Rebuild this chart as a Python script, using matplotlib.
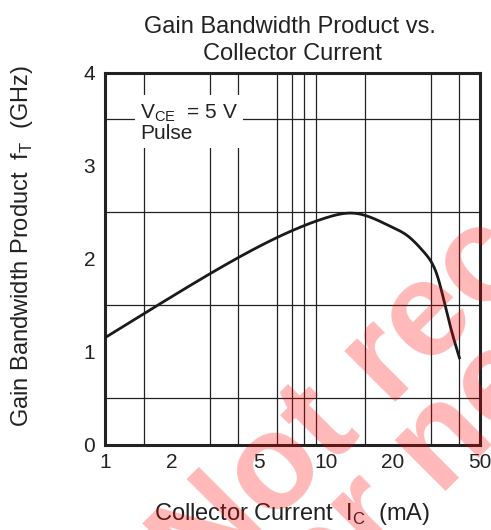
import numpy as np
import matplotlib.pyplot as plt
from matplotlib.ticker import FixedLocator, NullFormatter

plt.rcParams['font.family'] = ['Liberation Sans', 'DejaVu Sans']
plt.rcParams['mathtext.fontset'] = 'custom'
plt.rcParams['mathtext.rm'] = 'Liberation Sans'

# Prąd kolektora (mA) i f_T (GHz)
ic = [1.0, 2.0, 4.0, 7.0, 10.0, 13.5, 20.0, 23.4, 27.9, 30.5, 32.0, 34.4, 36.9, 40.5]
ft = [1.15, 1.59, 2.01, 2.30, 2.44, 2.49, 2.34, 2.25, 2.07, 1.94, 1.82, 1.54, 1.25, 0.92]

x_ticks = [1, 2, 5, 10, 20, 50]
x_grid = [1.5, 2, 3, 4, 5, 6, 7, 8, 9, 10, 15, 20, 30, 40]
y_ticks = [0, 1, 2, 3, 4]
y_grid = [0.5, 1, 1.5, 2, 2.5, 3, 3.5]

W, H = 491, 530
fig = plt.figure(figsize=(W / 100, H / 100), dpi=100)
L, R, T, B = 105, 480, 73, 444.5
ax = fig.add_axes([L / W, 1 - B / H, (R - L) / W, (B - T) / H])


def spline(x, y, n=400):
    # naturalny spline sześcienny
    x = np.asarray(x, float)
    y = np.asarray(y, float)
    k = len(x)
    h = np.diff(x)
    A = np.zeros((k, k))
    r = np.zeros(k)
    A[0, 0] = A[-1, -1] = 1
    for i in range(1, k - 1):
        A[i, i - 1] = h[i - 1]
        A[i, i] = 2 * (h[i - 1] + h[i])
        A[i, i + 1] = h[i]
        r[i] = 3 * ((y[i + 1] - y[i]) / h[i] - (y[i] - y[i - 1]) / h[i - 1])
    c = np.linalg.solve(A, r)
    b = (y[1:] - y[:-1]) / h - h * (2 * c[:-1] + c[1:]) / 3
    d = (c[1:] - c[:-1]) / (3 * h)
    xs = np.linspace(x[0], x[-1], n)
    j = np.clip(np.searchsorted(x, xs) - 1, 0, k - 2)
    dx = xs - x[j]
    return xs, y[j] + b[j] * dx + c[j] * dx ** 2 + d[j] * dx ** 3


ax.set_xscale('log')
ax.set_xlim(1, 50)
ax.set_ylim(0, 4)

lx, ys = spline(np.log10(ic), ft)
ax.plot(10 ** lx, ys, color='#1a1a1a', lw=2.0, zorder=3, solid_capstyle='butt')

ax.xaxis.set_major_locator(FixedLocator(x_ticks))
ax.xaxis.set_minor_locator(FixedLocator(x_grid))
ax.xaxis.set_minor_formatter(NullFormatter())
ax.set_xticklabels([str(t) for t in x_ticks])
ax.set_yticks(y_ticks)
ax.yaxis.set_minor_locator(FixedLocator(y_grid))
ax.grid(which='minor', color='#222222', lw=0.9)
ax.tick_params(which='both', length=0, labelsize=15, colors='#222222')
ax.tick_params(axis='x', pad=6)
ax.tick_params(axis='y', pad=7)
ax.set_axisbelow(True)
for s in ax.spines.values():
    s.set_linewidth(2.2)
    s.set_color('#222222')

ax.text(1.44, 3.47, r'V$_{\mathregular{CE}}$  = 5 V' + '\nPulse', fontsize=15,
        va='center', ha='left', linespacing=1.0, color='#222222',
        bbox=dict(boxstyle='square,pad=0.25', facecolor='white', edgecolor='none'),
        zorder=4)

# tytuł i opisy osi
fig.text(290 / W, 1 - 33 / H, 'Gain Bandwidth Product vs.', fontsize=17,
         ha='center', va='baseline', color='#222222')
fig.text(292 / W, 1 - 60 / H, 'Collector Current', fontsize=17,
         ha='center', va='baseline', color='#222222')
fig.text(292 / W, 1 - 520 / H, r'Collector Current  I$_{\mathregular{C}}$  (mA)',
         fontsize=17, ha='center', va='baseline', color='#222222')
fig.text(22 / W, 1 - 246 / H, r'Gain Bandwidth Product  f$_{\mathregular{T}}$  (GHz)',
         fontsize=17, ha='center', va='center', rotation=90, color='#222222')

# znak wodny
fig.text(202 / W, 1 - 595 / H, 'Not recommended', rotation=45, rotation_mode='anchor',
         fontsize=98, fontweight='bold', color='#ff0000', alpha=0.28,
         ha='left', va='baseline', zorder=10)
fig.text(284 / W, 1 - 652 / H, 'for new design', rotation=45, rotation_mode='anchor',
         fontsize=98, fontweight='bold', color='#ff0000', alpha=0.28,
         ha='left', va='baseline', zorder=10)

fig.savefig('out.png', dpi=100)
